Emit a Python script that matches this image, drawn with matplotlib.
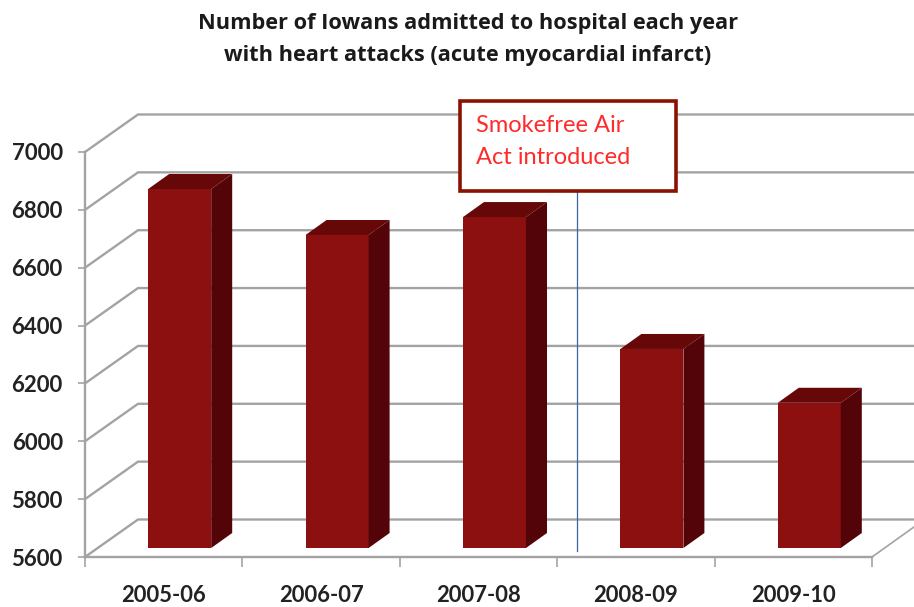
import matplotlib
matplotlib.use("Agg")
import matplotlib.pyplot as plt
from matplotlib.patches import Polygon, Rectangle

categories = ["2005-06", "2006-07", "2007-08", "2008-09", "2009-10"]
admissions = [6841, 6682, 6744, 6288, 6102]
y_ticks = [5600, 5800, 6000, 6200, 6400, 6600, 6800, 7000]
title_text = "Number of Iowans admitted to hospital each year\nwith heart attacks (acute myocardial infarct)"
note_text = "Smokefree Air\nAct introduced"

W, H = 914, 607
AX_L, AX_R, AX_T, AX_B = 85, 872, 152, 557
GREY = "#a3a3a3"
FRONT, SIDE, TOP = "#8c1010", "#520408", "#660808"
FONT = "Lato"

fig = plt.figure(figsize=(W / 100, H / 100), dpi=100, facecolor="white")
ax = fig.add_axes([AX_L / W, 1 - AX_B / H, (AX_R - AX_L) / W, (AX_B - AX_T) / H])
ax.set_xlim(-0.5, 4.5)
ax.set_ylim(5600, 7000)
ax.patch.set_visible(False)

ux = (AX_R - AX_L) / 5       # px per category
uy = (AX_B - AX_T) / 1400    # px per value unit
px = lambda v: v / ux
py = lambda v: v / uy

# wall and floor
wall_dx, wall_dy = px(53), py(37.5)
for v in y_ticks:
    ax.plot([-0.5, -0.5 + wall_dx, 4.5 + px(60)], [v, v + wall_dy, v + wall_dy],
            color=GREY, lw=1.7, clip_on=False, zorder=1, solid_joinstyle="miter")
ax.plot([4.5, 4.5 + px(42)], [5600, 5600 + py(30)], color=GREY, lw=1.2, clip_on=False, zorder=1)

# bars
shift_x, shift_y = px(16), py(9)
half = px(31.5)
side_dx, side_dy = px(21), py(15)
base = 5600 + shift_y
for i, v in enumerate(admissions):
    c = i + shift_x
    top = v + shift_y
    ax.add_patch(Rectangle((c - half, base), 2 * half, v - 5600, fc=FRONT, ec="none", zorder=3, clip_on=False))
    ax.add_patch(Polygon([(c + half, base), (c + half + side_dx, base + side_dy),
                          (c + half + side_dx, top + side_dy), (c + half, top)],
                         fc=SIDE, ec="none", zorder=3, clip_on=False))
    ax.add_patch(Polygon([(c - half, top), (c - half + side_dx, top + side_dy),
                          (c + half + side_dx, top + side_dy), (c + half, top)],
                         fc=TOP, ec="none", zorder=3, clip_on=False))

# marker line and note box
ax.plot([2.626, 2.626], [5620, 6900], color="#3c62a0", lw=0.9, zorder=4, clip_on=False)
box_l, box_r = -0.5 + px(458 + 1.5 - AX_L), -0.5 + px(677 - 1.5 - AX_L)
box_b, box_t = 5600 + py(AX_B - 191), 5600 + py(AX_B - 101.5)
ax.add_patch(Rectangle((box_l, box_b), box_r - box_l, box_t - box_b, fc="white", ec="#8b1200",
                       lw=2.6, zorder=5, clip_on=False))
fig.text(476 / W, 1 - 141.5 / H, note_text, color="#ff2a2a", fontsize=17, family=FONT,
         ha="left", va="center", linespacing=1.6, zorder=6)

# axes
for s in ("top", "right"):
    ax.spines[s].set_visible(False)
for s in ("left", "bottom"):
    ax.spines[s].set_color(GREY)
    ax.spines[s].set_linewidth(1.7)
    ax.spines[s].set_zorder(2)
ax.set_yticks(y_ticks)
ax.set_yticklabels([str(t) for t in y_ticks], fontsize=16, family=FONT, fontweight="bold", color="#222222")
ax.tick_params(axis="y", length=5, width=1.2, color=GREY, pad=11)
ax.set_xticks([i - 0.5 for i in range(6)])
ax.set_xticklabels([])
ax.set_xticks(range(5), minor=True)
ax.set_xticklabels(categories, minor=True, fontsize=15.8, family=FONT, fontweight="bold", color="#222222")
ax.tick_params(axis="x", which="major", length=7, width=1.2, color=GREY)
ax.tick_params(axis="x", which="minor", length=0, pad=20)

fig.text(468 / W, 1 - 39.5 / H, title_text, ha="center", va="center", fontsize=15.7, family="Open Sans",
         fontweight="bold", color="#1a1a1a", linespacing=1.65)

fig.savefig("out.png", dpi=100)
